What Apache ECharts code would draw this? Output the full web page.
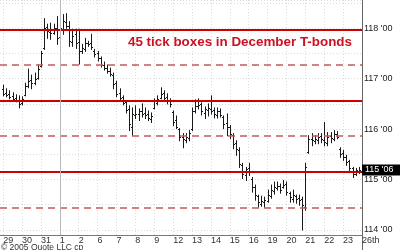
<!DOCTYPE html>
<html>
<head>
<meta charset="utf-8">
<script src="https://cdn.jsdelivr.net/npm/echarts@6/dist/echarts.min.js"></script>
<style>html,body{margin:0;padding:0;background:#fff}#c{width:400px;height:250px}</style>
</head>
<body>
<div id="c"></div>
<script>
// Trading days shown on the x axis (Aug 29 - Sep 26, 2005)
const days = ['29','30','31','1','2','6','7','8','9','12','13','14','15','16','19','20','21','22','23','26th'];
const barsPerDay = 6;

// Intraday bars (6 per day), December T-bond futures, decimal points
const open = [
  116.80,116.72,116.70,116.66,116.62,116.58,
  116.52,116.68,116.85,116.98,116.92,117.02,
  117.25,117.60,118.02,117.92,117.90,118.00,
  117.82,117.98,118.12,118.05,117.72,117.88,
  117.72,117.55,117.58,117.70,117.70,117.55,
  117.50,117.40,117.28,117.22,117.16,117.08,
  116.92,116.72,116.64,116.54,116.40,116.05,
  116.28,116.30,116.36,116.32,116.30,116.20,
  116.42,116.52,116.62,116.72,116.64,116.58,
  116.34,116.18,116.00,115.85,115.78,115.82,
  116.00,116.36,116.45,116.50,116.32,116.38,
  116.40,116.38,116.28,116.36,116.24,116.12,
  116.04,115.88,115.72,115.58,115.28,115.08,
  115.22,115.02,114.86,114.68,114.52,114.56,
  114.58,114.68,114.78,114.84,114.88,114.86,
  114.92,114.74,114.62,114.68,114.64,114.62,
  114.45,115.55,115.80,115.76,115.78,115.86,
  115.78,115.72,115.86,115.80,115.90,115.60,
  115.52,115.45,115.36,115.22,115.10,115.16
];
const high = [
  116.87,116.80,116.76,116.72,116.68,116.66,
  116.64,116.91,117.19,117.07,117.11,117.27,
  117.54,118.19,118.08,118.10,118.08,118.23,
  118.13,118.27,118.29,118.13,117.98,117.98,
  117.98,117.68,117.80,117.74,117.88,117.58,
  117.54,117.43,117.33,117.27,117.21,117.11,
  116.95,116.80,116.66,116.56,116.46,116.42,
  116.46,116.40,116.50,116.42,116.36,116.32,
  116.60,116.66,116.82,116.76,116.70,116.60,
  116.36,116.26,116.01,115.91,115.91,115.97,
  116.42,116.58,116.60,116.52,116.44,116.50,
  116.66,116.42,116.42,116.40,116.26,116.30,
  116.07,115.91,115.77,115.63,115.32,115.24,
  115.32,115.04,114.89,114.69,114.67,114.65,
  114.79,114.89,114.95,114.95,114.91,114.98,
  114.95,114.75,114.79,114.69,114.69,114.65,
  115.32,115.87,115.91,115.87,115.91,115.91,
  116.13,115.93,115.93,115.97,115.95,115.63,
  115.58,115.48,115.38,115.24,115.22,115.24
];
const low = [
  116.66,116.64,116.60,116.56,116.54,116.42,
  116.48,116.66,116.82,116.80,116.88,116.99,
  117.23,117.58,117.80,117.78,117.88,117.68,
  117.74,117.88,118.00,117.64,117.64,117.60,
  117.29,117.50,117.54,117.64,117.58,117.43,
  117.35,117.23,117.17,117.11,117.05,116.80,
  116.64,116.56,116.48,116.32,115.97,115.87,
  116.21,116.17,116.24,116.21,116.17,116.13,
  116.40,116.48,116.60,116.56,116.50,116.44,
  116.07,116.01,115.77,115.63,115.73,115.77,
  115.97,116.32,116.40,116.28,116.21,116.26,
  116.30,116.22,116.22,116.24,116.01,115.87,
  115.81,115.61,115.48,115.24,115.02,114.98,
  115.08,114.75,114.59,114.45,114.47,114.45,
  114.55,114.63,114.71,114.79,114.73,114.83,
  114.69,114.55,114.55,114.53,114.49,114.00,
  114.39,115.52,115.67,115.71,115.71,115.73,
  115.67,115.67,115.73,115.77,115.81,115.44,
  115.38,115.28,115.18,115.04,115.08,115.12
];
const close = [
  116.70,116.68,116.64,116.60,116.56,116.50,
  116.60,116.85,116.95,116.92,117.00,117.20,
  117.50,118.00,117.95,117.90,118.00,117.80,
  118.00,118.15,118.05,117.75,117.85,117.70,
  117.55,117.60,117.70,117.68,117.62,117.48,
  117.40,117.28,117.22,117.15,117.10,116.90,
  116.70,116.62,116.52,116.38,116.10,116.30,
  116.30,116.35,116.30,116.28,116.22,116.25,
  116.55,116.60,116.70,116.62,116.58,116.50,
  116.15,116.05,115.85,115.80,115.85,115.92,
  116.35,116.45,116.48,116.35,116.40,116.42,
  116.35,116.30,116.35,116.28,116.10,116.05,
  115.90,115.70,115.60,115.30,115.10,115.20,
  115.15,114.85,114.70,114.55,114.58,114.60,
  114.70,114.80,114.85,114.88,114.80,114.90,
  114.75,114.65,114.70,114.62,114.60,114.50,
  115.25,115.80,115.78,115.80,115.85,115.80,
  115.75,115.85,115.82,115.90,115.85,115.50,
  115.45,115.35,115.22,115.10,115.18,115.19
];

// 45-tick box levels (solid) and half-box levels (dashed)
const solidLevels  = [117.96875, 116.5625, 115.15625];
const dashedLevels = [117.265625, 115.859375, 114.453125];
const lastPrice = 115.1875;
const lastPriceLabel = "115 '06";
const monthStartDay = '1';
const titleText = '45 tick boxes in December T-bonds';
const copyright = '\u00A9 2005 Quote LLC cp';

// category slots: a leading empty slot, 6 per trading day, final slot for "26th"
const nSlots = (days.length - 1) * barsPerDay + 2;
const cats = Array.from({length: nSlots}, (_, i) => 's' + i);
const labelAt = {};
days.forEach((d, k) => { labelAt[1 + k * barsPerDay] = d; });
const monthIdx = 1 + days.indexOf(monthStartDay) * barsPerDay;

const ohlc = high.map((h, j) => [j + 1, open[j], h, low[j], close[j]]);

const FONT = '"Liberation Sans", Arial, sans-serif';
const chart = echarts.init(document.getElementById('c'), null, {renderer: 'canvas'});

chart.setOption({
  animation: false,
  backgroundColor: '#fff',
  title: {
    text: titleText, left: 128, top: 36, padding: 0,
    textStyle: {color: '#cc1122', fontSize: 13.4, fontWeight: 'bold', fontFamily: FONT}
  },
  grid: {left: 0, right: 38, top: 0, bottom: 15, containLabel: false},
  xAxis: {
    type: 'category', data: cats, boundaryGap: false,
    axisLine: {show: true, lineStyle: {color: '#777', width: 1}},
    axisTick: {show: false},
    axisLabel: {
      interval: (i) => labelAt[i] !== undefined,
      formatter: (v, i) => labelAt[i] || '',
      align: 'left', margin: 1, fontSize: 9, color: '#333', fontFamily: FONT
    },
    splitLine: {show: true, interval: (i) => labelAt[i] !== undefined,
      lineStyle: {color: '#dcdcdc', type: [1, 2], width: 1}}
  },
  yAxis: {
    type: 'value', position: 'right', min: 113.9, max: 118.56, splitNumber: 9, scale: true,
    axisLine: {show: true, lineStyle: {color: '#666', width: 1}},
    axisTick: {show: false},
    axisLabel: {
      showMinLabel: false, showMaxLabel: false,
      formatter: (v) => Math.abs(v - Math.round(v)) < 1e-6 ? Math.round(v) + " '00" : '',
      margin: 2, fontSize: 9, color: '#222', fontFamily: FONT
    },
    splitLine: {show: true, lineStyle: {color: '#dcdcdc', type: [1, 2], width: 1}}
  },
  series: [
    {
      type: 'custom', data: ohlc, encode: {x: 0, y: [1, 2, 3, 4]}, z: 3,
      renderItem: (params, api) => {
        const xi = api.value(0);
        const o = api.coord([xi, api.value(1)]);
        const h = api.coord([xi, api.value(2)]);
        const l = api.coord([xi, api.value(3)]);
        const c = api.coord([xi, api.value(4)]);
        const px = Math.round(h[0]) + 0.5;
        const st = {stroke: '#1a1a1a', lineWidth: 1};
        return {type: 'group', children: [
          {type: 'line', shape: {x1: px, y1: h[1] - 0.5, x2: px, y2: l[1] + 0.5}, style: st},
          {type: 'line', shape: {x1: px - 1.5, y1: Math.round(o[1]) + 0.5, x2: px, y2: Math.round(o[1]) + 0.5}, style: st},
          {type: 'line', shape: {x1: px, y1: Math.round(c[1]) + 0.5, x2: px + 1.5, y2: Math.round(c[1]) + 0.5}, style: st}
        ]};
      }
    },
    {
      type: 'line', data: [], z: 2,
      markLine: {
        silent: true, symbol: 'none', animation: false,
        label: {show: false},
        data: [
          ...solidLevels.map(v => ({yAxis: v, lineStyle: {color: '#cc0000', width: 2, type: 'solid'}})),
          ...dashedLevels.map(v => ({yAxis: v, lineStyle: {color: '#c45a5a', width: 1.5, type: [7, 5]}})),
          {xAxis: monthIdx, lineStyle: {color: '#b8b8b8', width: 1, type: 'solid'}}
        ]
      }
    },
    {
      type: 'line', data: [], z: 5,
      markLine: {
        silent: true, symbol: 'none', animation: false,
        lineStyle: {color: 'rgba(0,0,0,0)', width: 1, type: 'solid'},
        label: {show: true, position: 'end', distance: 0, formatter: lastPriceLabel,
          backgroundColor: '#000', color: '#fff', fontSize: 9, fontFamily: FONT,
          padding: [1, 9, 1, 3]},
        data: [{yAxis: lastPrice}]
      }
    }
  ],
  graphic: [
    {type: 'line', shape: {x1: 362.5, y1: 235, x2: 362.5, y2: 250}, style: {stroke: '#666', lineWidth: 1}},
    {type: 'text', left: 1, top: 243, style: {text: copyright, fontSize: 8.5, fill: '#333', font: '8.5px ' + FONT}}
  ]
});
</script>
</body>
</html>
